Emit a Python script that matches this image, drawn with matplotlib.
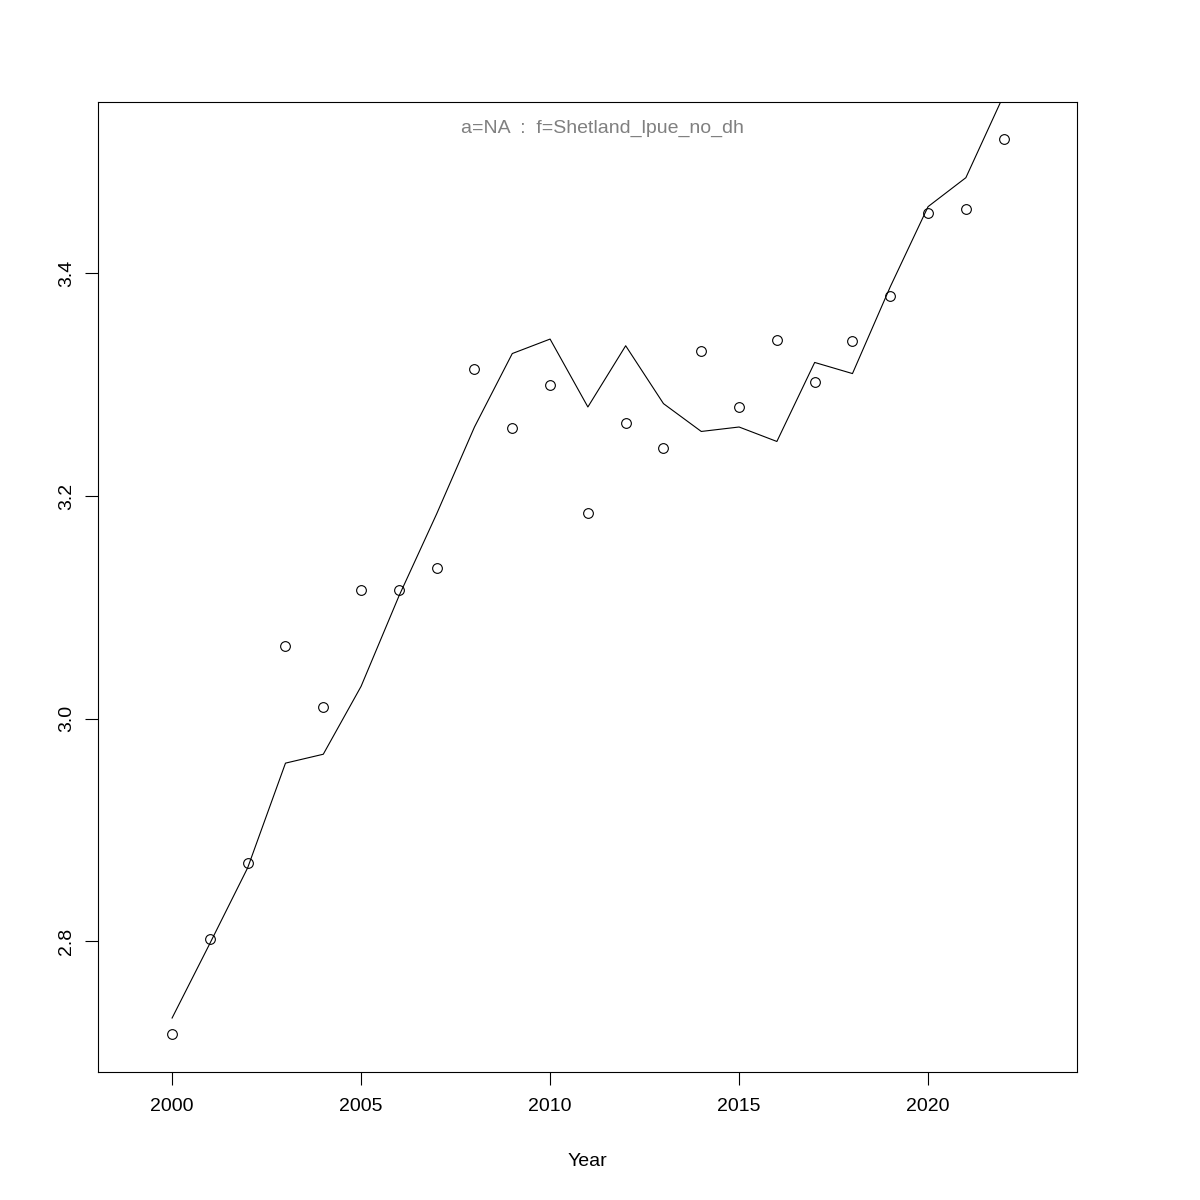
import matplotlib
matplotlib.use("Agg")
import matplotlib.pyplot as plt

years = list(range(2000, 2023))
observed = [2.717, 2.802, 2.870, 3.065, 3.010, 3.116, 3.116, 3.135, 3.314, 3.261,
            3.300, 3.185, 3.266, 3.243, 3.330, 3.280, 3.340, 3.302, 3.339, 3.380,
            3.454, 3.458, 3.521]
fitted = [2.731, 2.798, 2.866, 2.960, 2.968, 3.029, 3.110, 3.184, 3.262, 3.328,
          3.341, 3.280, 3.335, 3.283, 3.258, 3.262, 3.249, 3.320, 3.310, 3.388,
          3.460, 3.486, 3.560]
x_ticks = [2000, 2005, 2010, 2015, 2020]
y_ticks = [2.8, 3.0, 3.2, 3.4]

plt.rcParams['font.family'] = ['Liberation Sans', 'DejaVu Sans']
fig = plt.figure(figsize=(12, 12), dpi=100)
ax = fig.add_axes([98 / 1200, 1 - 1072 / 1200, 979 / 1200, 970 / 1200])

ax.plot(years, fitted, color='black', lw=0.8)
ax.plot(years, observed, 'o', mfc='none', mec='black', ms=7, mew=0.8)

ax.set_xlim(1998.04, 2023.94)
ax.set_ylim(2.6825, 3.554)
ax.set_xticks(x_ticks)
ax.set_yticks(y_ticks)
ax.set_yticklabels([f"{v:.1f}" for v in y_ticks], rotation=90, va='center')
ax.tick_params(direction='out', length=9.5, width=0.8, labelsize=14)
ax.tick_params(axis='x', pad=9)
ax.tick_params(axis='y', pad=7)
for s in ax.spines.values():
    s.set_linewidth(0.8)

ax.set_xlabel("Year", fontsize=14, va='center')
ax.xaxis.set_label_coords(0.5, (1072 - 1161) / 970)
ax.text(0.515, 0.973, "a=NA  :  f=Shetland_lpue_no_dh", transform=ax.transAxes,
        ha='center', va='center', color='grey', fontsize=14)

fig.savefig("out.png", dpi=100)
